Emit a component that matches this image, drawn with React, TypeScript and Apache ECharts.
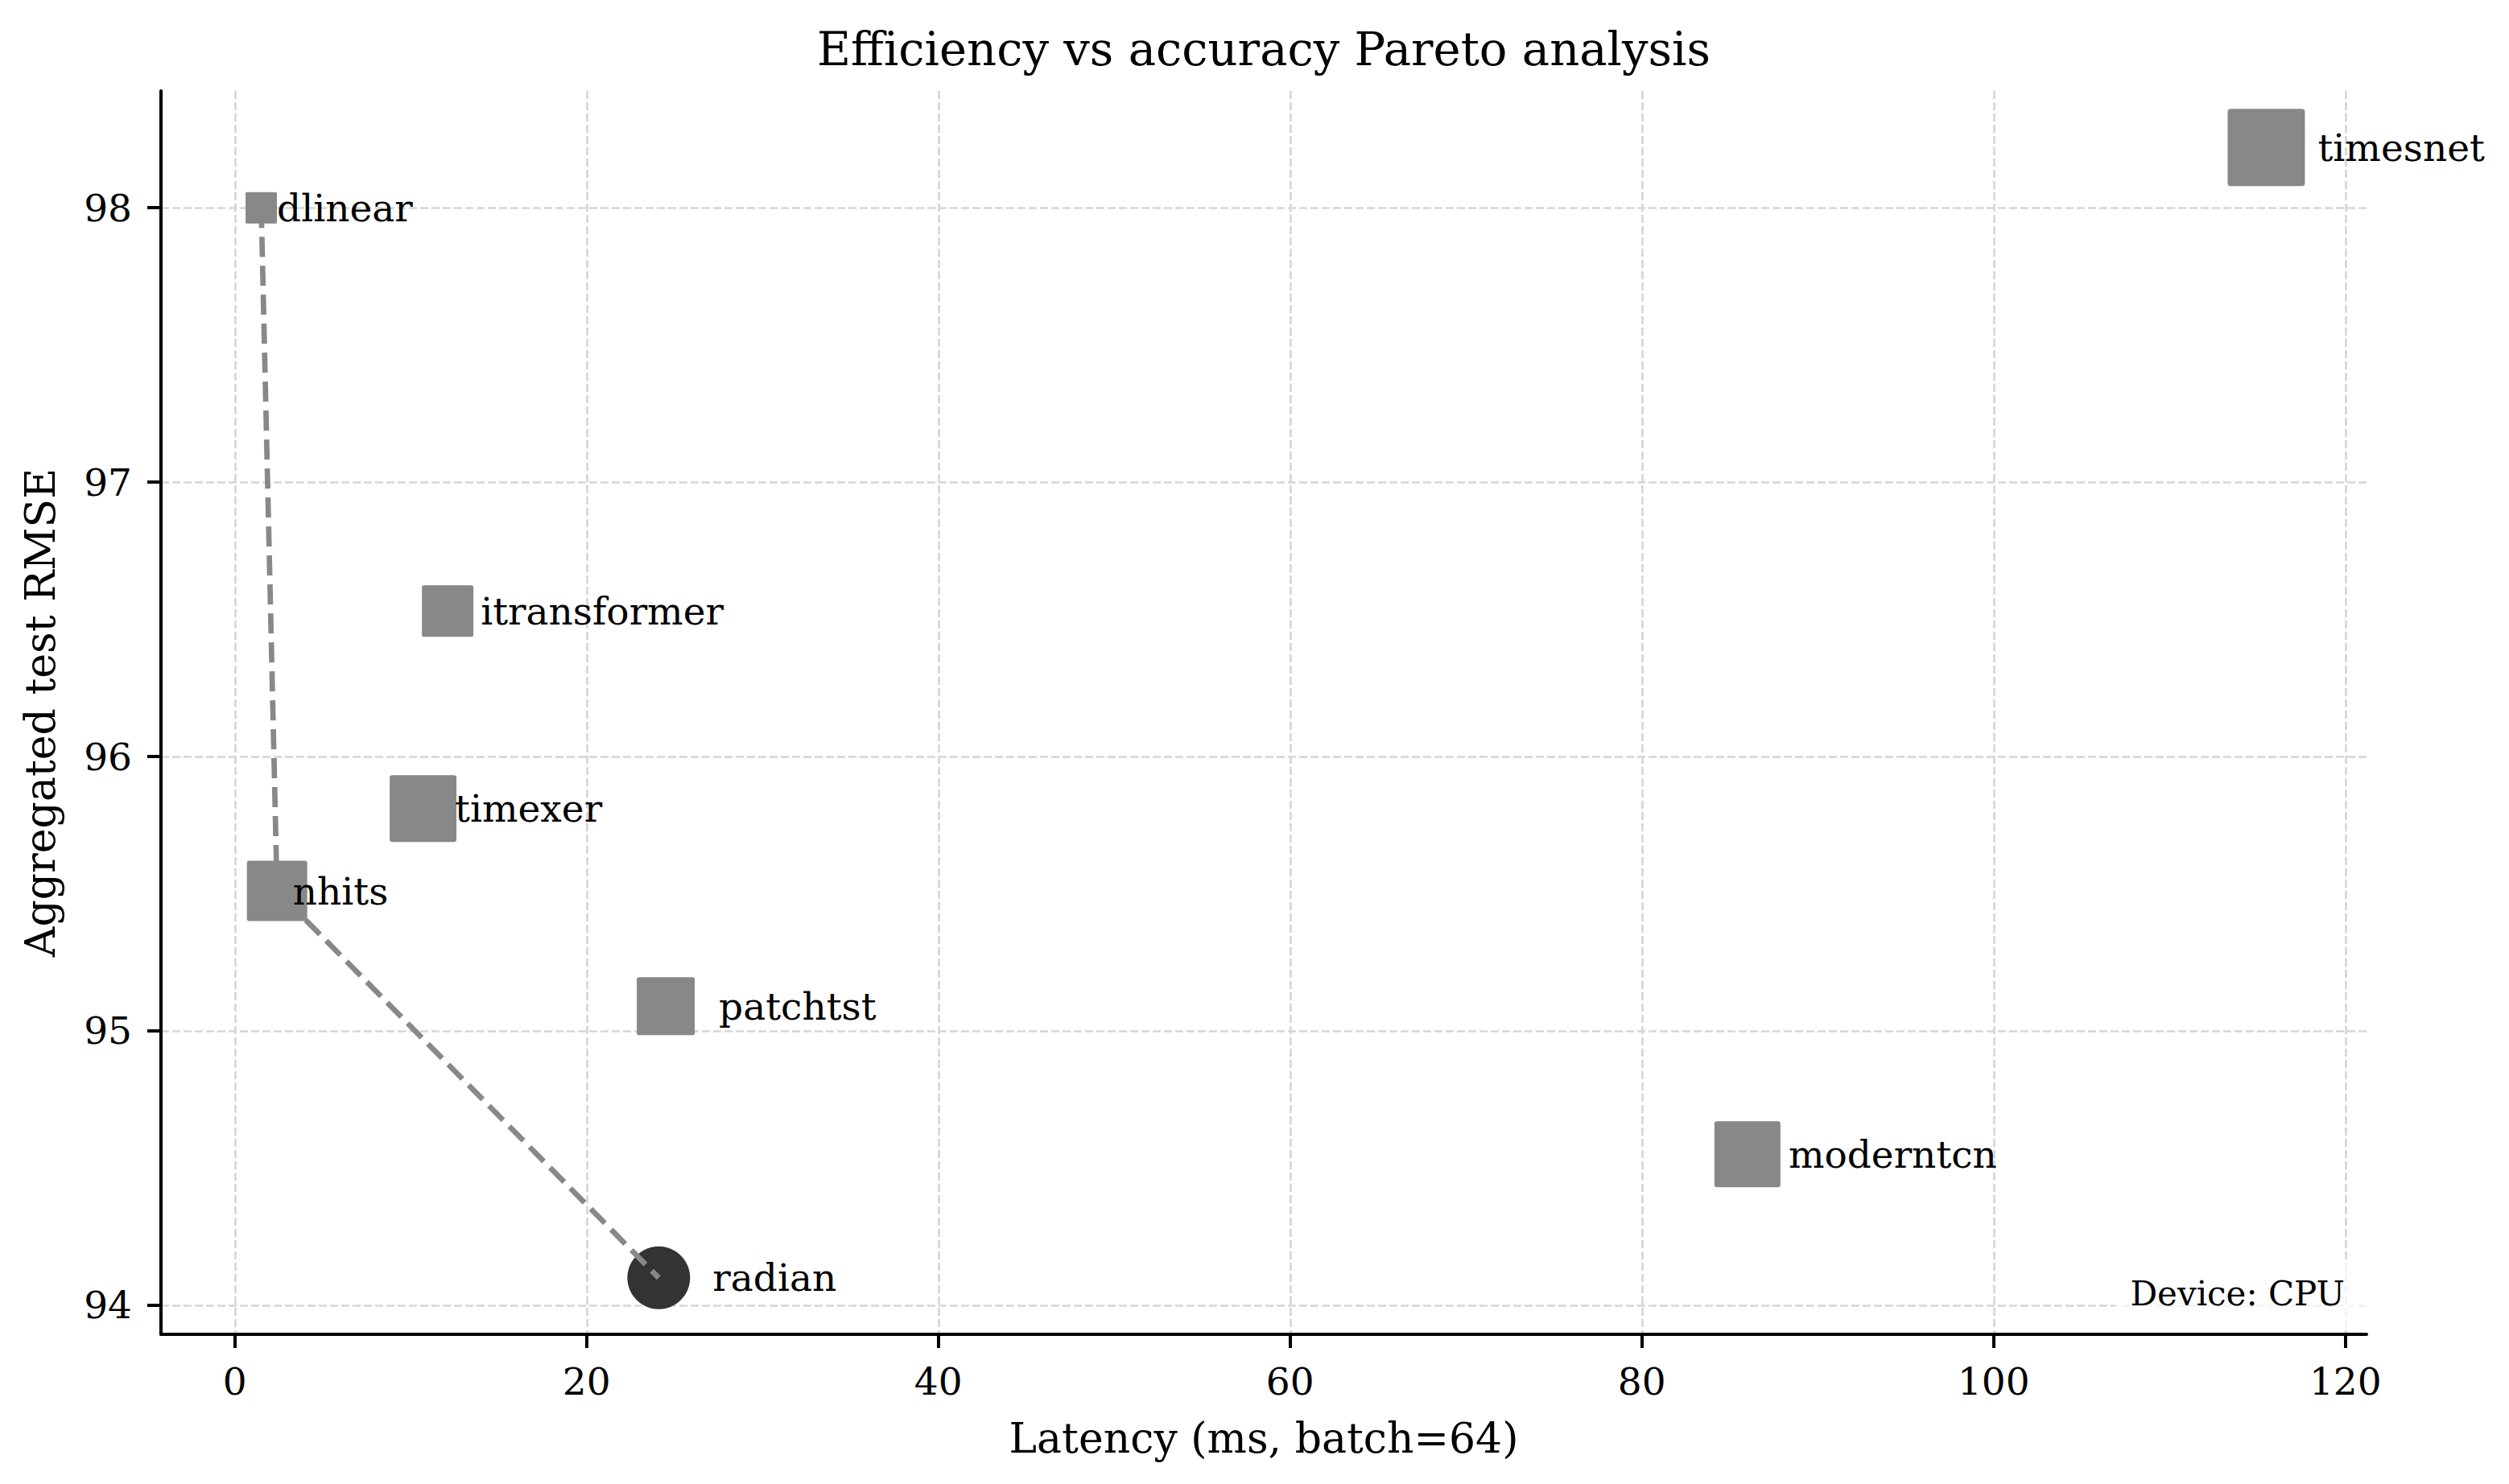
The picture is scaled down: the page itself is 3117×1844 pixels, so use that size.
import React, { useEffect, useRef } from "react";
import * as echarts from "echarts";

// ---- data ----
const models = ["dlinear", "timesnet", "itransformer", "timexer", "nhits", "patchtst", "radian", "moderntcn"];
const latencyMs = [1.5, 115.5, 12.1, 10.7, 2.4, 24.5, 24.1, 86.0];
const rmse = [98.0, 98.22, 96.53, 95.81, 95.51, 95.09, 94.1, 94.55];
const paretoModels = ["dlinear", "nhits", "radian"];
const highlightModel = "radian";
const xTicks = [0, 20, 40, 60, 80, 100, 120];
const yTicks = [94, 95, 96, 97, 98];
const titleText = "Efficiency vs accuracy Pareto analysis";
const xName = "Latency (ms, batch=64)";
const yName = "Aggregated test RMSE";
const noteText = "Device: CPU";

// ---- styles ----
const symbolSizes = [39, 96, 64, 83, 75, 72, 78, 82];
const labelGaps = [0, 16, 9, -2, -18, 30, 28, 10];
const FONT = "DejaVu Serif";
const SQUARE =
  "path://M4,0 H96 A4,4 0 0 1 100,4 V96 A4,4 0 0 1 96,100 H4 A4,4 0 0 1 0,96 V4 A4,4 0 0 1 4,0 Z";

function padRange(arr: number[]): [number, number] {
  const lo = Math.min(...arr);
  const hi = Math.max(...arr);
  const m = (hi - lo) * 0.05;
  return [lo - m, hi + m];
}

export default function App() {
  const ref = useRef<HTMLDivElement>(null);
  useEffect(() => {
    if (!ref.current) return;
    const chart = echarts.init(ref.current, undefined, { renderer: "svg" });
    const xr = padRange(latencyMs);
    const yr = padRange(rmse);

    const scatterData = models.map((m, i) => ({
      name: m,
      value: [latencyMs[i], rmse[i]],
      symbol: m === highlightModel ? "circle" : SQUARE,
      symbolSize: symbolSizes[i],
      itemStyle: { color: m === highlightModel ? "#333333" : "#888888", opacity: 1 },
      label: { distance: labelGaps[i] },
    }));

    const paretoData = paretoModels.map((m) => {
      const i = models.indexOf(m);
      return [latencyMs[i], rmse[i]];
    });

    const axisCommon = {
      axisLine: { show: true, onZero: false, lineStyle: { color: "#000", width: 4 } },
      axisTick: { show: true, length: 17, lineStyle: { color: "#000", width: 4 } },
      splitLine: {
        show: true,
        lineStyle: { color: "#d6d6d6", width: 2.7, type: [10, 4] },
      },
      nameTextStyle: { fontFamily: FONT, fontSize: 52, color: "#000" },
    };

    chart.setOption({
      animation: false,
      backgroundColor: "#ffffff",
      textStyle: { fontFamily: FONT },
      grid: { left: 200, right: 177, top: 113, bottom: 186, containLabel: false },
      xAxis: {
        type: "value",
        min: xr[0],
        max: xr[1],
        minInterval: 20,
        maxInterval: 20,
        name: xName,
        nameLocation: "middle",
        nameGap: 103,
        ...axisCommon,
        axisTick: { ...axisCommon.axisTick, customValues: xTicks },
        axisLabel: {
          customValues: xTicks,
          margin: 35,
          fontFamily: FONT,
          fontSize: 47,
          color: "#000",
        },
      },
      yAxis: {
        type: "value",
        min: yr[0],
        max: yr[1],
        minInterval: 1,
        maxInterval: 1,
        name: yName,
        nameLocation: "middle",
        nameGap: 124,
        ...axisCommon,
        axisTick: { ...axisCommon.axisTick, customValues: yTicks },
        axisLabel: {
          customValues: yTicks,
          margin: 36,
          fontFamily: FONT,
          fontSize: 47,
          color: "#000",
        },
      },
      series: [
        {
          type: "scatter",
          z: 2,
          data: scatterData,
          itemStyle: { opacity: 1 },
          label: {
            show: true,
            position: "right",
            formatter: "{b}",
            fontFamily: FONT,
            fontSize: 47,
            color: "#000",
            opacity: 1,
          },
        },
        {
          type: "line",
          z: 3,
          data: paretoData,
          symbol: "none",
          silent: true,
          lineStyle: { color: "#888888", width: 6.7, type: [25, 11], opacity: 1 },
        },
      ],
      graphic: [
        {
          type: "text",
          x: 1570,
          y: 61,
          style: {
            text: titleText,
            fontFamily: FONT,
            fontSize: 57.6,
            fill: "#000",
            textAlign: "center",
            textVerticalAlign: "middle",
          },
        },
        {
          type: "rect",
          shape: { x: 2628, y: 1567, width: 314, height: 83 },
          style: { fill: "rgba(255,255,255,0.7)" },
          z: 10,
        },
        {
          type: "text",
          x: 2913,
          y: 1607.5,
          z: 11,
          style: {
            text: noteText,
            fontFamily: FONT,
            fontSize: 42,
            fill: "#000",
            textAlign: "right",
            textVerticalAlign: "middle",
          },
        },
      ],
    });
    return () => chart.dispose();
  }, []);
  return (
    <div
      ref={ref}
      style={{ position: "absolute", left: 0, top: 0, width: 3117, height: 1844 }}
    />
  );
}
